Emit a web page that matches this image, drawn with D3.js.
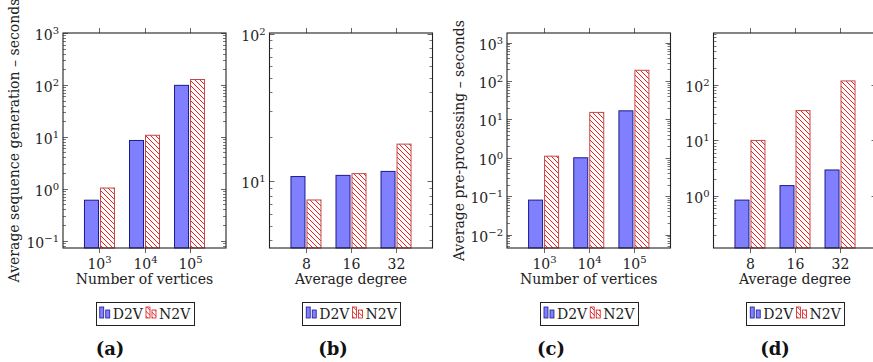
<!DOCTYPE html>
<html>
<head>
<meta charset="utf-8">
<script src="https://cdn.jsdelivr.net/npm/d3@7"></script>
<style>
  body { margin: 0; background: #fff; }
</style>
</head>
<body>
<svg id="chart" width="873" height="362" font-family="'DejaVu Serif', 'Liberation Serif', serif"></svg>
<script>
// categories
var vertexExp = [3, 4, 5];          // number of vertices = 10^k
var degrees = ["8", "16", "32"];    // average degree
var seriesNames = ["D2V", "N2V"];

// (a) sequence generation vs number of vertices
var seqVertD2V = [0.60, 8.5, 98];
var seqVertN2V = [1.03, 10.7, 127];
// (b) sequence generation vs average degree
var seqDegD2V = [10.8, 11.0, 11.7];
var seqDegN2V = [7.5, 11.3, 17.9];
// (c) pre-processing vs number of vertices
var preVertD2V = [0.079, 1.0, 16.7];
var preVertN2V = [1.1, 15.2, 190];
// (d) pre-processing vs average degree
var preDegD2V = [0.84, 1.53, 2.92];
var preDegN2V = [9.9, 34, 116];

(function() {
var svg = d3.select("#chart");
var plotTop = 33, plotBottom = 248;
var fs = 14;

var defs = svg.append("defs");
var pat = defs.append("pattern")
    .attr("id", "nwlines")
    .attr("patternUnits", "userSpaceOnUse")
    .attr("width", 5).attr("height", 5);
pat.append("rect").attr("width", 5).attr("height", 5).attr("fill", "#fff");
pat.append("path")
    .attr("d", "M0,0L5,5M-1,4L1,6M4,-1L6,1")
    .attr("stroke", "#ff0000")
    .attr("stroke-width", 0.9);

var panels = [
  {id: "a", left: 63, right: 226, cats: vertexExp.map(String), pow: true,
   d2v: seqVertD2V, n2v: seqVertN2V, domain: [0.072, 1000],
   xTitle: "Number of vertices", yTitle: "Average sequence generation \u2013 seconds", yTitleX: 14, capX: 110},
  {id: "b", left: 269.5, right: 432.5, cats: degrees, pow: false,
   d2v: seqDegD2V, n2v: seqDegN2V, domain: [3.55, 101],
   xTitle: "Average degree", capX: 333},
  {id: "c", left: 507, right: 670.5, cats: vertexExp.map(String), pow: true,
   d2v: preVertD2V, n2v: preVertN2V, domain: [0.00447, 1778],
   xTitle: "Number of vertices", yTitle: "Average pre-processing \u2013 seconds", yTitleX: 459, capX: 551},
  {id: "d", left: 713.5, right: 876.5, cats: degrees, pow: false,
   d2v: preDegD2V, n2v: preDegN2V, domain: [0.116, 841],
   xTitle: "Average degree", capX: 775}
];

function supLabel(sel, base, exp) {
  sel.append("tspan").text(base);
  sel.append("tspan").attr("dy", -6).attr("font-size", 10)
     .text(String(exp).replace("-", "\u2212"));
}

panels.forEach(function(p) {
  var g = svg.append("g");

  var x = d3.scalePoint().domain(p.cats).range([p.left, p.right]).padding(0.81);
  var y = d3.scaleLog().domain(p.domain).range([plotBottom, plotTop]);

  var lo = Math.log10(p.domain[0]), hi = Math.log10(p.domain[1]);
  var majors = [], minors = [];
  for (var e = Math.floor(lo); e <= Math.ceil(hi); e++) {
    var v = Math.pow(10, e);
    if (v >= p.domain[0] * 0.999 && v <= p.domain[1] * 1.001) majors.push(e);
    for (var k = 2; k <= 9; k++) {
      var m = k * v;
      if (m >= p.domain[0] && m <= p.domain[1]) minors.push(m);
    }
  }

  // bars
  var bw = 14, gap = 1;
  g.selectAll(".d2v").data(p.d2v).enter().append("rect")
      .attr("x", function(d, i) { return x(p.cats[i]) - gap - bw; })
      .attr("y", function(d) { return y(d); })
      .attr("width", bw)
      .attr("height", function(d) { return plotBottom - y(d); })
      .attr("fill", "#8080ff")
      .attr("stroke", "#1a1a8c")
      .attr("stroke-width", 1);
  g.selectAll(".n2v").data(p.n2v).enter().append("rect")
      .attr("x", function(d, i) { return x(p.cats[i]) + gap; })
      .attr("y", function(d) { return y(d); })
      .attr("width", bw)
      .attr("height", function(d) { return plotBottom - y(d); })
      .attr("fill", "url(#nwlines)")
      .attr("stroke", "#c04848")
      .attr("stroke-width", 1);

  // y ticks, inside on both sides
  var tickCol = "#555";
  minors.forEach(function(m) {
    var yy = Math.round(y(m)) + 0.5;
    g.append("line").attr("x1", p.left).attr("x2", p.left + 3).attr("y1", yy).attr("y2", yy)
        .attr("stroke", tickCol).attr("stroke-width", 0.8);
    g.append("line").attr("x1", p.right - 3).attr("x2", p.right).attr("y1", yy).attr("y2", yy)
        .attr("stroke", tickCol).attr("stroke-width", 0.8);
  });
  majors.forEach(function(e) {
    var yy = Math.round(y(Math.pow(10, e))) + 0.5;
    g.append("line").attr("x1", p.left).attr("x2", p.left + 5).attr("y1", yy).attr("y2", yy)
        .attr("stroke", tickCol).attr("stroke-width", 0.9);
    g.append("line").attr("x1", p.right - 5).attr("x2", p.right).attr("y1", yy).attr("y2", yy)
        .attr("stroke", tickCol).attr("stroke-width", 0.9);
    var t = g.append("text")
        .attr("x", p.left - 4)
        .attr("y", yy + 6)
        .attr("text-anchor", "end")
        .attr("font-size", fs)
        .attr("fill", "#222");
    supLabel(t, "10", e);
  });

  // x ticks, outside top and bottom
  p.cats.forEach(function(c) {
    var xx = Math.round(x(c)) + 0.5;
    g.append("line").attr("x1", xx).attr("x2", xx).attr("y1", plotTop - 5).attr("y2", plotTop)
        .attr("stroke", tickCol).attr("stroke-width", 0.9);
    g.append("line").attr("x1", xx).attr("x2", xx).attr("y1", plotBottom).attr("y2", plotBottom + 5)
        .attr("stroke", tickCol).attr("stroke-width", 0.9);
    var t = g.append("text")
        .attr("x", xx)
        .attr("y", 269)
        .attr("text-anchor", "middle")
        .attr("font-size", fs)
        .attr("fill", "#222");
    if (p.pow) supLabel(t, "10", c); else t.text(c);
  });

  // frame
  g.append("rect")
      .attr("x", p.left).attr("y", plotTop)
      .attr("width", p.right - p.left).attr("height", plotBottom - plotTop)
      .attr("fill", "none").attr("stroke", "#222").attr("stroke-width", 1.1);

  // axis titles
  g.append("text")
      .attr("x", (p.left + p.right) / 2).attr("y", 284)
      .attr("text-anchor", "middle").attr("font-size", fs).attr("fill", "#222")
      .text(p.xTitle);
  if (p.yTitle) {
    g.append("text")
        .attr("transform", "translate(" + (p.yTitleX + 5) + "," + ((plotTop + plotBottom) / 2) + ") rotate(-90)")
        .attr("text-anchor", "middle").attr("font-size", fs).attr("fill", "#222")
        .text(p.yTitle);
  }

  // legend
  var lg = g.append("g");
  var cx = (p.left + p.right) / 2;
  var xpos = 0;
  seriesNames.forEach(function(name, i) {
    var it = lg.append("g");
    var fill = i === 0 ? "#8080ff" : "url(#nwlines)";
    var stroke = i === 0 ? "#1a1a8c" : "#d02020";
    it.append("rect").attr("x", xpos).attr("y", 307).attr("width", 4).attr("height", 11)
        .attr("fill", fill).attr("stroke", stroke).attr("stroke-width", 0.8);
    it.append("rect").attr("x", xpos + 6).attr("y", 310).attr("width", 4).attr("height", 8)
        .attr("fill", fill).attr("stroke", stroke).attr("stroke-width", 0.8);
    var tx = it.append("text").attr("x", xpos + 13).attr("y", 319)
        .attr("font-size", fs).attr("fill", "#222").text(name);
    xpos += 13 + tx.node().getComputedTextLength() + 3;
  });
  var lw = xpos + 4;
  lg.attr("transform", "translate(" + (cx - lw / 2 + 4) + ",0)");
  g.append("rect")
      .attr("x", Math.round(cx - lw / 2) + 0.5).attr("y", 302.5)
      .attr("width", Math.round(lw)).attr("height", 23)
      .attr("fill", "none").attr("stroke", "#222").attr("stroke-width", 1);

  // sub-caption
  g.append("text")
      .attr("x", p.capX).attr("y", 355)
      .attr("text-anchor", "middle").attr("font-size", 18).attr("font-weight", "bold")
      .attr("fill", "#111")
      .text("(" + p.id + ")");
});
})();
</script>
</body>
</html>
